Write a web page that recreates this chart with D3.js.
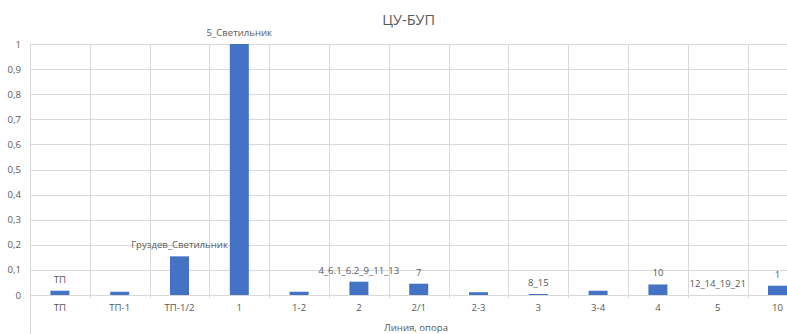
<!DOCTYPE html>
<html>
<head>
<meta charset="utf-8">
<script src="https://cdn.jsdelivr.net/npm/d3@7"></script>
<style>
  html, body { margin: 0; padding: 0; background: #fff; overflow: hidden; }
  svg { display: block; font-family: "Open Sans", "Noto Sans", sans-serif; }
</style>
</head>
<body>
<svg id="chart" width="787" height="334"></svg>
<script>
const categories = ["ТП", "ТП-1", "ТП-1/2", "1", "1-2", "2", "2/1", "2-3", "3", "3-4", "4", "5", "10"];
const values = [0.017, 0.013, 0.154, 1.0, 0.013, 0.053, 0.045, 0.011, 0.004, 0.017, 0.042, 0, 0.037];
const dataLabels = ["ТП", "", "Груздев_Светильник", "5_Светильник", "", "4_6.1_6.2_9_11_13", "7", "", "8_15", "", "10", "12_14_19_21", "1"];
const yTicks = [0, 0.1, 0.2, 0.3, 0.4, 0.5, 0.6, 0.7, 0.8, 0.9, 1];
const chartTitle = "ЦУ-БУП";
const xTitle = "Линия, опора";

(function () {
const svg = d3.select("#chart");
const mLeft = 30, mTop = 44, mBottom = 295;
const band = 59.8;
const mRight = mLeft + band * categories.length;
const fs = 9.6;

const x = d3.scaleBand().domain(categories).range([mLeft, mRight]).padding(0);
const y = d3.scaleLinear().domain([0, 1]).range([mBottom, mTop]);
const fmt = d => d === 0 ? "0" : d === 1 ? "1" : String(d).replace(".", ",");
const textCol = "#595959", gridCol = "#d9d9d9", barCol = "#4472C4";

// Title
svg.append("text").attr("x", (mRight + 10) / 2).attr("y", 25)
  .attr("text-anchor", "middle").attr("font-size", 14.5).attr("fill", textCol).text(chartTitle);

// horizontal grid
svg.append("g").selectAll("line").data(yTicks).join("line")
  .attr("x1", mLeft).attr("x2", mRight)
  .attr("y1", d => Math.round(y(d)) + 0.5).attr("y2", d => Math.round(y(d)) + 0.5)
  .attr("stroke", gridCol).attr("stroke-width", 1);

// vertical grid (band boundaries)
const bounds = categories.map(c => x(c)).concat([mRight]);
svg.append("g").selectAll("line").data(bounds).join("line")
  .attr("x1", d => Math.round(d) + 0.5).attr("x2", d => Math.round(d) + 0.5)
  .attr("y1", mTop).attr("y2", (d, i) => i === 0 ? 334 : mBottom + 3)
  .attr("stroke", gridCol).attr("stroke-width", 1);

// y axis labels
const yAxis = d3.axisLeft(y).tickValues(yTicks).tickFormat(fmt).tickSize(0).tickPadding(0);
const gy = svg.append("g").attr("transform", `translate(21,0)`).call(yAxis);
gy.select(".domain").remove();
gy.selectAll("text").attr("font-size", fs).attr("fill", textCol).attr("font-family", "Open Sans, sans-serif");

// x axis labels
const xAxis = d3.axisBottom(x).tickSize(0).tickPadding(0);
const gx = svg.append("g").attr("transform", `translate(0,${mBottom + 9})`).call(xAxis);
gx.select(".domain").remove();
gx.selectAll("text").attr("font-size", fs).attr("fill", textCol).attr("font-family", "Open Sans, sans-serif");

// bars
const bw = 19;
svg.append("g").selectAll("rect").data(categories).join("rect")
  .attr("x", c => x(c) + (x.bandwidth() - bw) / 2)
  .attr("width", bw)
  .attr("y", (c, i) => y(values[i]))
  .attr("height", (c, i) => mBottom - y(values[i]))
  .attr("fill", barCol);

// data labels
svg.append("g").selectAll("text").data(categories).join("text")
  .attr("x", c => x(c) + x.bandwidth() / 2)
  .attr("y", (c, i) => y(values[i]) - 8)
  .attr("text-anchor", "middle").attr("font-size", fs).attr("fill", textCol)
  .text((c, i) => dataLabels[i]);

// x title
svg.append("text").attr("x", 416).attr("y", 331)
  .attr("text-anchor", "middle").attr("font-size", fs).attr("fill", textCol).text(xTitle);
})();
</script>
</body>
</html>
